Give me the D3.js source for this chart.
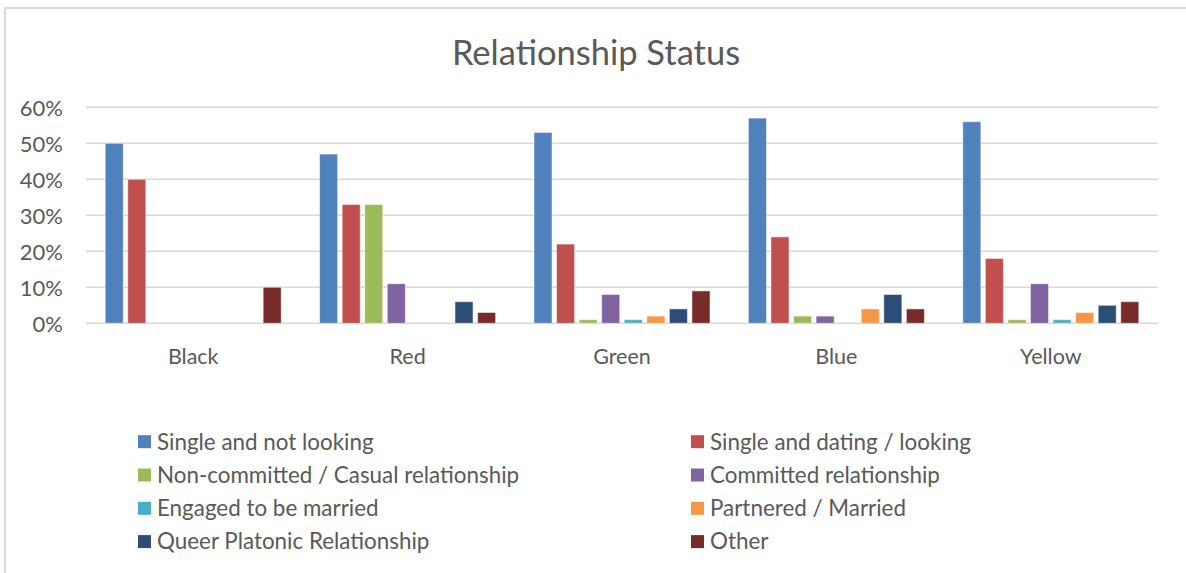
<!DOCTYPE html>
<html>
<head>
<meta charset="utf-8">
<script src="https://cdn.jsdelivr.net/npm/d3@7"></script>
<style>
    body { margin: 0; background: #fff; }
    svg text { font-family: Lato, "Open Sans", sans-serif; fill: #595959; }
</style>
</head>
<body>
<svg id="chart" width="1186" height="573"></svg>
<script>
// chart data
const categories = ["Black", "Red", "Green", "Blue", "Yellow"];
const seriesNames = [
    "Single and not looking",
    "Single and dating / looking",
    "Non-committed / Casual relationship",
    "Committed relationship",
    "Engaged to be married",
    "Partnered / Married",
    "Queer Platonic Relationship",
    "Other"
];
// one value per category for each series (fraction)
const singleNotLooking = [0.50, 0.47, 0.53, 0.57, 0.56];
const singleDating = [0.40, 0.33, 0.22, 0.24, 0.18];
const nonCommitted = [0.00, 0.33, 0.01, 0.02, 0.01];
const committed = [0.00, 0.11, 0.08, 0.02, 0.11];
const engaged = [0.00, 0.00, 0.01, 0.00, 0.01];
const partnered = [0.00, 0.00, 0.02, 0.04, 0.03];
const queerPlatonic = [0.00, 0.06, 0.04, 0.08, 0.05];
const other = [0.10, 0.03, 0.09, 0.04, 0.06];
const yTicks = [0, 0.1, 0.2, 0.3, 0.4, 0.5, 0.6];

const seriesValues = [singleNotLooking, singleDating, nonCommitted, committed,
    engaged, partnered, queerPlatonic, other];
const colors = ["#4F81BD", "#C0504D", "#9BBB59", "#8064A2",
    "#4BACC6", "#F79646", "#2C4D75", "#772C2A"];

const svg = d3.select("#chart");

// outer chart frame
svg.append("path")
    .attr("d", "M5,573V8H1186")
    .attr("fill", "none")
    .attr("stroke", "#d9d9d9")
    .attr("stroke-width", 2);

svg.append("text")
    .attr("x", 596)
    .attr("y", 65)
    .attr("text-anchor", "middle")
    .style("font-size", "34.5px")
    .text("Relationship Status");

const plot = { left: 86, right: 1158, top: 107.3, bottom: 323.3 };

const y = d3.scaleLinear()
    .domain([0, 0.6])
    .range([plot.bottom, plot.top]);

const x0 = d3.scaleBand()
    .domain(categories)
    .range([plot.left, plot.right])
    .paddingInner(0.179)
    .paddingOuter(0.0895);

const x1 = d3.scaleBand()
    .domain(d3.range(seriesNames.length))
    .range([0, x0.bandwidth()])
    .paddingInner(0.2);

// gridlines
svg.append("g")
    .selectAll("line")
    .data(yTicks)
    .enter().append("line")
    .attr("x1", plot.left)
    .attr("x2", plot.right)
    .attr("y1", function(d) { return y(d); })
    .attr("y2", function(d) { return y(d); })
    .attr("stroke", "#d9d9d9")
    .attr("stroke-width", 1.5);

// y axis labels
const yAxis = svg.append("g")
    .attr("transform", "translate(" + (plot.left - 23) + ",1)")
    .call(d3.axisLeft(y).tickValues(yTicks).tickFormat(d3.format(".0%")).tickSize(0).tickPadding(0));
yAxis.select(".domain").remove();
yAxis.selectAll("text")
    .style("font-size", "22px")
    .attr("fill", "#595959");

// category labels
const xAxis = svg.append("g")
    .attr("transform", "translate(0," + plot.bottom + ")")
    .call(d3.axisBottom(x0).tickSize(0).tickPadding(25));
xAxis.select(".domain").remove();
xAxis.selectAll("text")
    .style("font-size", "21.5px")
    .attr("fill", "#595959");

// bars
const groups = svg.append("g")
    .selectAll("g")
    .data(categories)
    .enter().append("g")
    .attr("transform", function(d) { return "translate(" + x0(d) + ",0)"; });

groups.selectAll("rect")
    .data(function(d, ci) {
        return seriesValues.map(function(vals, si) { return { s: si, v: vals[ci] }; });
    })
    .enter().filter(function(d) { return d.v > 0; })
    .append("rect")
    .attr("x", function(d) { return x1(d.s); })
    .attr("width", x1.bandwidth())
    .attr("y", function(d) { return y(d.v); })
    .attr("height", function(d) { return plot.bottom - y(d.v); })
    .attr("fill", function(d) { return colors[d.s]; })
    .attr("stroke", "#ffffff")
    .attr("stroke-opacity", 0.5)
    .attr("stroke-width", 1);

// legend, two columns
const legend = svg.append("g")
    .selectAll("g")
    .data(seriesNames)
    .enter().append("g")
    .attr("transform", function(d, i) {
        const col = i % 2;
        const row = Math.floor(i / 2);
        return "translate(" + (col === 0 ? 138 : 691) + "," + (441.7 + row * 33.3) + ")";
    });

legend.append("rect")
    .attr("x", 0)
    .attr("y", -6.5)
    .attr("width", 13)
    .attr("height", 13)
    .attr("fill", function(d, i) { return colors[i]; });

legend.append("text")
    .attr("x", 19)
    .attr("dy", "0.35em")
    .style("font-size", "22.4px")
    .text(function(d) { return d; });
</script>
</body>
</html>
